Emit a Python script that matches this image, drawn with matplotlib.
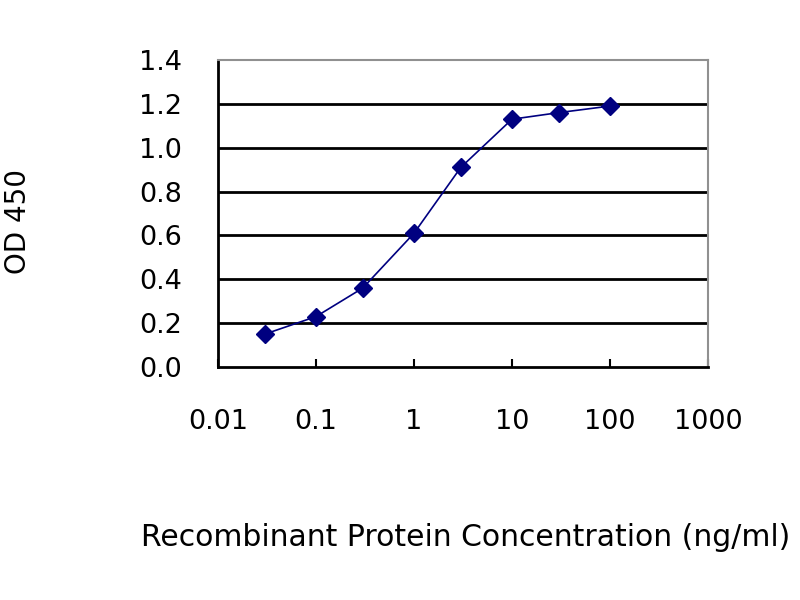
import matplotlib
matplotlib.use('agg')
import matplotlib.pyplot as plt

plt.rcParams['font.family'] = ['DejaVu Sans']

conc = [0.03, 0.1, 0.3, 1, 3, 10, 30, 100]
od450 = [0.15, 0.23, 0.36, 0.61, 0.91, 1.13, 1.16, 1.19]
xticks = [0.01, 0.1, 1, 10, 100, 1000]
xticklabels = ['0.01', '0.1', '1', '10', '100', '1000']
yticks = [0.0, 0.2, 0.4, 0.6, 0.8, 1.0, 1.2, 1.4]

fig = plt.figure(figsize=(8, 6), dpi=100)
ax = fig.add_axes([0.2725, 0.3883, 0.6125, 0.5117])

# horizontal grid lines
for y in yticks[1:-1]:
    ax.axhline(y, color='black', lw=2, zorder=1)

ax.plot(conc, od450, color='#000080', lw=1.2, marker='D', markersize=9,
        markerfacecolor='#000080', markeredgecolor='#000080', zorder=3)

ax.set_xscale('log')
ax.set_xlim(0.01, 1000)
ax.set_ylim(0, 1.4)
ax.set_xticks(xticks)
ax.set_xticklabels(xticklabels)
ax.minorticks_off()
ax.set_yticks(yticks)
ax.set_yticklabels(['%.1f' % v for v in yticks])

ax.tick_params(axis='x', direction='in', length=6, width=1.5, pad=30,
               labelsize=19.5, colors='black')
ax.tick_params(axis='y', length=0, pad=26, labelsize=19.5)

ax.spines['left'].set_color('black')
ax.spines['left'].set_linewidth(2)
ax.spines['bottom'].set_color('black')
ax.spines['bottom'].set_linewidth(2)
ax.spines['top'].set_color('#909090')
ax.spines['top'].set_linewidth(1.5)
ax.spines['right'].set_color('#909090')
ax.spines['right'].set_linewidth(1.5)

fig.text(0.023, 0.63, 'OD 450', rotation=90, fontsize=20,
         ha='center', va='center')
fig.text(0.582, 0.105, 'Recombinant Protein Concentration (ng/ml)',
         fontsize=21.5, ha='center', va='center')

plt.savefig('out.png', dpi=100)
